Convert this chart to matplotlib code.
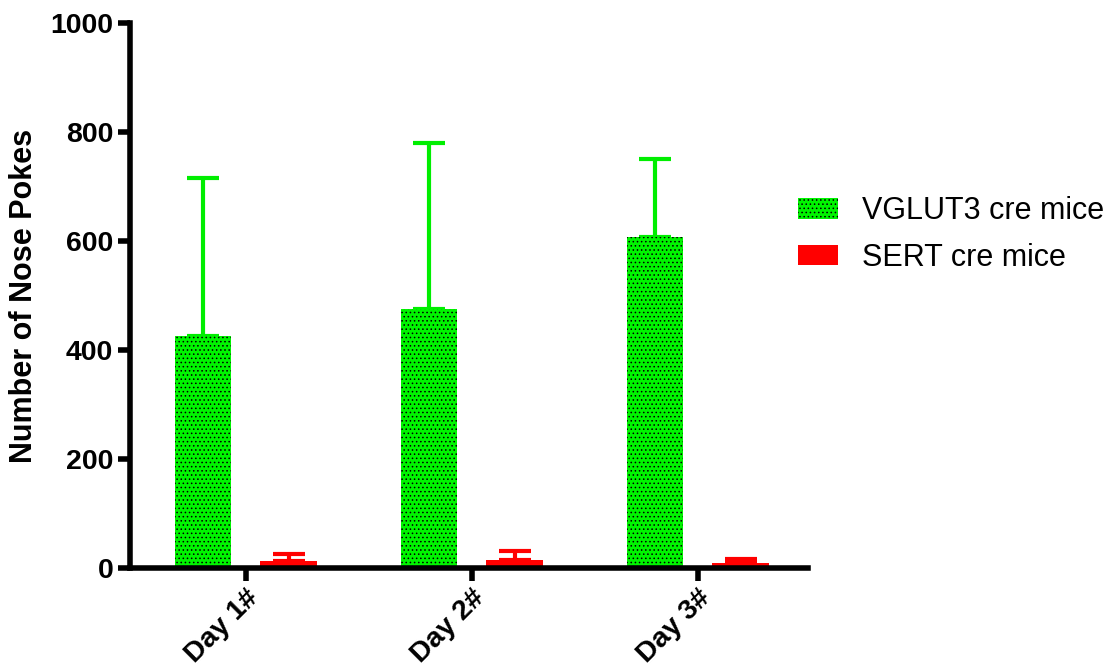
import matplotlib
matplotlib.use("Agg")
import matplotlib.pyplot as plt
import numpy as np
from matplotlib.patches import Patch

plt.rcParams['font.family'] = ['Liberation Sans', 'DejaVu Sans']
plt.rcParams['hatch.color'] = 'black'
plt.rcParams['hatch.linewidth'] = 0.6

days = ["Day 1#", "Day 2#", "Day 3#"]
vglut3_mean = [425, 475, 607]
vglut3_err = [291, 305, 143]
sert_mean = [12, 14, 9]
sert_err = [13, 18, 8]

fig = plt.figure(figsize=(11.15, 6.66), dpi=100)
ax = fig.add_axes([130 / 1115, 1 - 568 / 666, 678 / 1115, 545 / 666])

x = np.arange(len(days))
w = 0.252
off = 0.19

ax.bar(x - off, vglut3_mean, w, color='#00f500', hatch='....', edgecolor='black',
       linewidth=0, zorder=2)
ax.errorbar(x - off, vglut3_mean, yerr=[np.zeros(3), vglut3_err], fmt='none',
            ecolor='#00ee00', elinewidth=3, capsize=11.5, capthick=3, zorder=1)
ax.bar(x + off, sert_mean, w, color='#ff0000', linewidth=0, zorder=2)
ax.errorbar(x + off, sert_mean, yerr=[np.zeros(3), sert_err], fmt='none',
            ecolor='#ff0000', elinewidth=3, capsize=11.5, capthick=3, zorder=1)

ax.set_xlim(-0.513, 2.487)
ax.set_ylim(0, 1000)
ax.set_yticks([0, 200, 400, 600, 800, 1000])
ax.set_xticks(x)
ax.set_xticklabels(days, rotation=45, ha='right', rotation_mode='anchor',
                   fontsize=20.5, fontweight='bold')
for lab in ax.get_yticklabels():
    lab.set_fontsize(20.5)
    lab.set_fontweight('bold')
ax.set_ylabel("Number of Nose Pokes", fontsize=22, fontweight='bold', labelpad=8)

for s in ['top', 'right']:
    ax.spines[s].set_visible(False)
for s in ['left', 'bottom']:
    ax.spines[s].set_linewidth(4)
ax.tick_params(axis='both', width=4, length=9, pad=3)

handles = [Patch(facecolor='#00f500', hatch='....', edgecolor='black', linewidth=0),
           Patch(facecolor='#ff0000', linewidth=0)]
fig.legend(handles, ["VGLUT3 cre mice", "SERT cre mice"], loc='upper left',
           bbox_to_anchor=(798 / 1115, 1 - 196 / 666), frameon=False, fontsize=22,
           borderpad=0, borderaxespad=0,
           handlelength=1.3, handleheight=0.66, handletextpad=0.8, labelspacing=0.55)

fig.savefig("out.png", dpi=100)
